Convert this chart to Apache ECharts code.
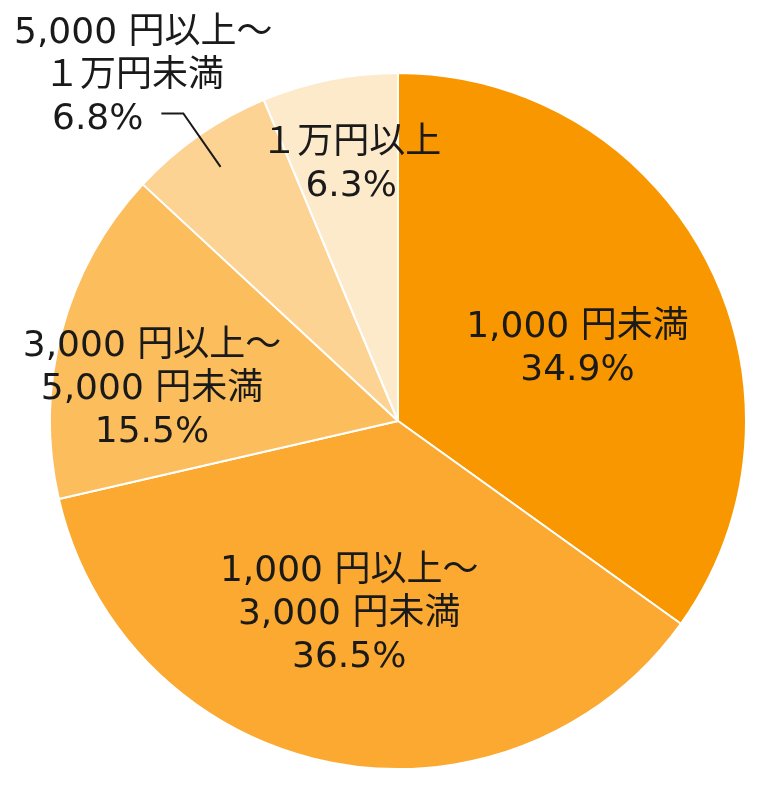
<!DOCTYPE html>
<html>
<head>
<meta charset="utf-8">
<script src="https://cdn.jsdelivr.net/npm/echarts@6/dist/echarts.min.js"></script>
<style>
html,body{margin:0;padding:0;background:#fff;}
#main{width:760px;height:788px;}
</style>
</head>
<body>
<div id="main"></div>
<script>
// 値（%）
var categories = ['1,000 円未満', '1,000 円以上～\n3,000 円未満', '3,000 円以上～\n5,000 円未満', '5,000 円以上～\n１万円未満', '１万円以上'];
var values = [34.9, 36.5, 15.5, 6.8, 6.3];
var colors = ['#F99700', '#FBA930', '#FCBD5C', '#FDD394', '#FDEACB'];

// ラベルの微調整
var labelShift = [[22, 9], [-14, 20], [-75, 14], null, [-12, -82]];

var dom = document.getElementById('main');
var myChart = echarts.init(dom);

var font = 'DejaVu Sans, Noto Sans CJK JP';
var textColor = '#1a1a1a';

var pieData = [];
var lineData = [];
for (var i = 0; i < values.length; i++) {
	var item = {
		name: categories[i],
		value: values[i],
		itemStyle: { color: colors[i] }
	};
	var lineItem = {
		name: categories[i],
		value: values[i]
	};
	if (i == 3) {
		item.label = {
			formatter: function (p) {
				return '{a|5,000 円以上～}\n{b|１万円未満}\n{c|' + p.value.toFixed(1) + '%}';
			},
			rich: {
				a: { fontSize: 36, lineHeight: 43, color: textColor, align: 'left', fontFamily: font },
				b: { fontSize: 36, lineHeight: 43, color: textColor, align: 'left', padding: [0, 0, 0, 30], fontFamily: font },
				c: { fontSize: 36, lineHeight: 43, color: textColor, align: 'left', padding: [0, 0, 0, 38], fontFamily: font }
			}
		};
		lineItem.label = { show: true };
		lineItem.labelLine = { show: true };
	}
	pieData.push(item);
	lineData.push(lineItem);
}

option = {
	animation: false,
	series: [{
		type: 'pie',
		center: [398, 421],
		radius: 348,
		startAngle: 90,
		clockwise: true,
		avoidLabelOverlap: false,
		silent: true,
		itemStyle: {
			borderColor: '#ffffff',
			borderWidth: 2
		},
		label: {
			show: true,
			position: 'inside',
			color: textColor,
			fontSize: 36,
			lineHeight: 43,
			fontFamily: font,
			formatter: function (p) {
				return p.name + '\n' + p.value.toFixed(1) + '%';
			}
		},
		labelLine: { show: false },
		labelLayout: function (params) {
			var i = params.dataIndex;
			if (i == 3) {
				return { x: 14, y: 12, align: 'left', verticalAlign: 'top' };
			}
			var s = labelShift[i];
			return { dx: s[0], dy: s[1] };
		},
		data: pieData
	}, {
		// 引き出し線だけを描く透明な円
		type: 'pie',
		z: 5,
		center: [398, 421],
		radius: 310,
		startAngle: 90,
		clockwise: true,
		avoidLabelOverlap: false,
		silent: true,
		itemStyle: { color: 'rgba(0,0,0,0)', borderWidth: 0 },
		label: {
			show: false,
			position: 'outside',
			formatter: ' ',
			fontSize: 10
		},
		labelLine: {
			show: false,
			showAbove: true,
			length: 65,
			length2: 22,
			lineStyle: { color: textColor, width: 2 }
		},
		data: lineData
	}]
};
myChart.setOption(option, true);
</script>
</body>
</html>
